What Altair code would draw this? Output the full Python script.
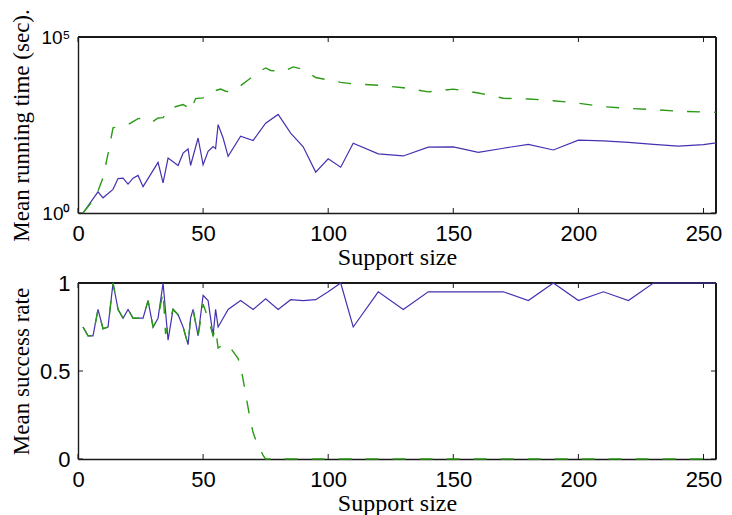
import altair as alt
import pandas as pd

# ---- data ----
# top panel: mean running time (sec), log scale
time_solid_x = [2, 8, 10, 14, 16, 18, 20, 22, 24, 26, 32, 34, 36, 40, 42, 44, 45, 48, 50, 52,
                54, 55, 56, 58, 60, 65, 70, 75, 80, 85, 90, 95, 100, 105, 110, 120, 130, 140,
                150, 160, 170, 180, 190, 200, 210, 220, 230, 240, 250, 255]
time_solid_y = [1.0, 4.0, 2.7, 4.7, 9.5, 9.8, 6.6, 9.8, 11.7, 5.6, 27.5, 7.2, 36.3, 22.4, 50.1,
                66.1, 22.4, 135, 23.4, 56.2, 77.6, 67.6, 324, 135, 40.7, 151, 115, 355, 631,
                186, 75.9, 14.5, 34.7, 20.0, 95.5, 47.9, 41.7, 74.1, 75.9, 52.5, 69.2, 89.1,
                61.7, 117, 112, 102, 89.1, 79.4, 87.1, 97.7]

time_dash_x = [2, 5, 8, 10, 12, 14, 16, 20, 24, 28, 30, 32, 34, 36, 38, 42, 44, 45, 47, 50,
               52, 55, 57, 59, 60, 64, 68, 72, 75, 77, 82, 86, 90, 95, 100, 105, 110, 120,
               130, 140, 150, 160, 170, 180, 190, 200, 210, 220, 230, 240, 255]
time_dash_y = [1, 1.86, 4.27, 10, 47.9, 263, 282, 324, 479, 501, 398, 501, 513, 794, 1000,
               1202, 1000, 813, 1778, 1862, 2399, 3020, 3311, 2884, 2818, 3631, 6026, 10000,
               13183, 11220, 10471, 14125, 12023, 7079, 6026, 5129, 4677, 4266, 3631, 2754,
               3311, 2570, 1820, 1738, 1549, 1318, 1047, 933, 871, 776, 724]

# bottom panel: mean success rate
rate_solid_x = [2, 4, 6, 8, 10, 12, 14, 16, 18, 20, 22, 24, 26, 28, 30, 32, 34, 36, 38, 40,
                42, 44, 45, 46, 48, 50, 52, 54, 55, 56, 60, 65, 70, 75, 80, 85, 90, 95, 100,
                105, 110, 120, 130, 140, 150, 160, 170, 180, 190, 200, 210, 220, 230, 240, 255]
rate_solid_y = [0.75, 0.70, 0.70, 0.85, 0.74, 0.75, 1.0, 0.85, 0.80, 0.85, 0.80, 0.80, 0.80,
                0.90, 0.75, 0.80, 1.0, 0.675, 0.85, 0.82, 0.75, 0.65, 0.80, 0.85, 0.70, 0.93,
                0.90, 0.70, 0.85, 0.75, 0.85, 0.90, 0.85, 0.91, 0.85, 0.905, 0.90, 0.905, 0.95,
                1.0, 0.75, 0.95, 0.85, 0.95, 0.95, 0.95, 0.95, 0.90, 1.0, 0.90, 0.95, 0.90,
                1.0, 1.0, 1.0]

rate_dash_x = [2, 4, 6, 8, 10, 12, 14, 16, 18, 20, 22, 24, 26, 28, 30, 32, 34, 35, 38, 40,
               42, 44, 45, 46, 48, 50, 52, 54, 55, 56, 58, 60, 62, 64, 65, 66, 67, 68, 69,
               70, 71, 72, 73, 74, 75, 255]
rate_dash_y = [0.75, 0.70, 0.70, 0.85, 0.74, 0.75, 1.0, 0.85, 0.80, 0.85, 0.80, 0.80, 0.80,
               0.90, 0.75, 0.80, 0.95, 0.71, 0.85, 0.82, 0.75, 0.65, 0.80, 0.85, 0.70, 0.88,
               0.80, 0.70, 0.74, 0.63, 0.65, 0.65, 0.61, 0.57, 0.53, 0.45, 0.37, 0.29, 0.21,
               0.15, 0.11, 0.08, 0.05, 0.02, 0.0, 0.0]

x_ticks = [0, 50, 100, 150, 200, 250]
time_ticks = [1, 100000]
rate_ticks = [0, 0.5, 1]

# ---- styling ----
W, H = 638, 176
BLUE = "#4232b0"
GREEN = "#2a9a14"
FRAME = "#1a1a1a"
FRAME_W = 1.4
TICK = 5
LABEL_FONT = "Liberation Sans"
TITLE_FONT = "Liberation Serif"

xscale = alt.Scale(domain=[0, 255], nice=False, zero=False)
xaxis = alt.Axis(values=x_ticks, title="Support size", ticks=False, domain=True,
                 domainColor=FRAME, domainWidth=FRAME_W, grid=False,
                 labelFont=LABEL_FONT, labelFontSize=22, labelPadding=10, labelColor="black",
                 labelFlush=False, titleFont=TITLE_FONT, titleFontSize=24,
                 titleFontWeight="normal", titleColor="black", titlePadding=1)


def panel(solid_x, solid_y, dash_x, dash_y, yscale, yaxis, yticks):
    solid = pd.DataFrame({"x": solid_x, "y": solid_y})
    dash = pd.DataFrame({"x": dash_x, "y": dash_y})
    xt = pd.DataFrame({"x": x_ticks})
    yt = pd.DataFrame({"y": yticks})
    X = alt.X("x:Q", scale=xscale, axis=xaxis)
    Y = alt.Y("y:Q", scale=yscale, axis=yaxis)
    # top and right edges of the box (bottom and left are the axis domains)
    edge_top = alt.Chart(xt).mark_rule(color=FRAME, strokeWidth=FRAME_W).encode(
        x=alt.value(0), x2=alt.value(W), y=alt.value(0))
    edge_right = alt.Chart(xt).mark_rule(color=FRAME, strokeWidth=FRAME_W).encode(
        x=alt.value(W), y=alt.value(0), y2=alt.value(H))
    # inward ticks on all four sides
    tb = alt.Chart(xt).mark_rule(color=FRAME, strokeWidth=1).encode(
        x=X, y=alt.value(H), y2=alt.value(H - TICK))
    tt = alt.Chart(xt).mark_rule(color=FRAME, strokeWidth=1).encode(
        x=X, y=alt.value(0), y2=alt.value(TICK))
    tl = alt.Chart(yt).mark_rule(color=FRAME, strokeWidth=1).encode(
        y=Y, x=alt.value(0), x2=alt.value(TICK))
    tr = alt.Chart(yt).mark_rule(color=FRAME, strokeWidth=1).encode(
        y=Y, x=alt.value(W), x2=alt.value(W - TICK))
    l1 = alt.Chart(solid).mark_line(color=BLUE, strokeWidth=1.2, clip=False).encode(x=X, y=Y)
    l2 = alt.Chart(dash).mark_line(color=GREEN, strokeWidth=1.4, strokeDash=[13, 14],
                                   clip=False).encode(x=X, y=Y)
    return alt.layer(edge_top, edge_right, tb, tt, tl, tr, l1, l2).properties(width=W, height=H)


def yax(title, values, expr, size):
    return alt.Axis(values=values, title=title, ticks=False, domain=True,
                    domainColor=FRAME, domainWidth=FRAME_W, grid=False,
                    labelFont=LABEL_FONT, labelFontSize=size, labelPadding=8,
                    labelColor="black", labelExpr=expr, labelFlush=False,
                    titleFont=TITLE_FONT, titleFontSize=23, titleFontWeight="normal",
                    titleColor="black", titlePadding=2, minExtent=42.7, maxExtent=42.7)


ax_time = yax("Mean running time (sec).", time_ticks,
              "datum.value == 1 ? '10⁰' : '10⁵'", 19)
ax_rate = yax("Mean success rate", rate_ticks,
              "datum.value == 0 ? '0' : datum.value == 1 ? '1' : '0.5'", 22)

top = panel(time_solid_x, time_solid_y, time_dash_x, time_dash_y,
            alt.Scale(type="log", domain=[1, 100000], nice=False), ax_time, time_ticks)
bottom = panel(rate_solid_x, rate_solid_y, rate_dash_x, rate_dash_y,
               alt.Scale(domain=[0, 1], nice=False, zero=False), ax_rate, rate_ticks)

chart = alt.vconcat(top, bottom, spacing=3).properties(
    padding={"left": 2, "top": 0, "right": 0, "bottom": 0},
).configure_view(strokeWidth=0)

chart.save("out.html", embed_options={"renderer": "svg", "actions": False})
